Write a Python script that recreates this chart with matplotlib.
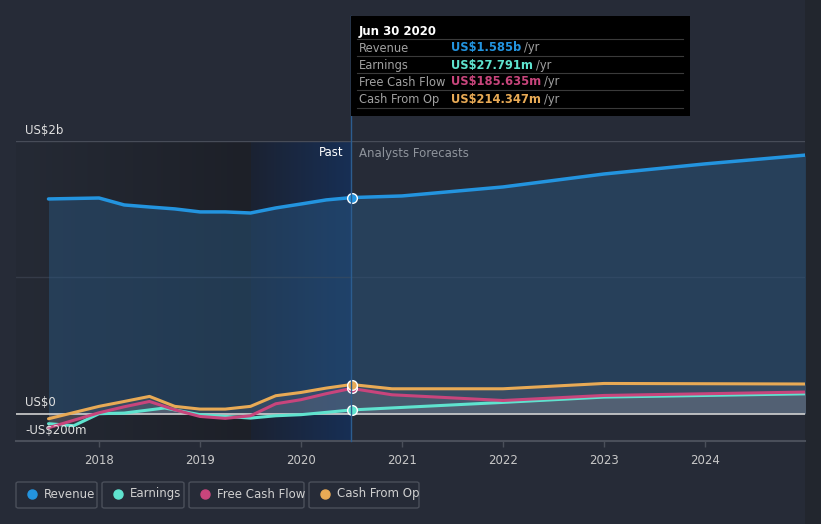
import matplotlib
matplotlib.use("Agg")
import matplotlib.pyplot as plt
from matplotlib.lines import Line2D
from matplotlib.patches import FancyBboxPatch, Rectangle
from matplotlib.colors import to_rgb
import numpy as np

# values in US$ millions, x in fractional years
rev_x = [2017.5, 2018.0, 2018.25, 2018.5, 2018.75, 2019.0, 2019.25, 2019.5, 2019.75, 2020.0, 2020.25, 2020.5,
         2021.0, 2022.0, 2023.0, 2024.0, 2025.0]
rev_y = [1575, 1582, 1531, 1516, 1502, 1480, 1480, 1472, 1509, 1538, 1568, 1585,
         1597, 1663, 1758, 1832, 1897]

earn_x = [2017.5, 2017.75, 2018.0, 2018.25, 2018.65, 2019.0, 2019.5, 2019.75, 2020.0, 2020.25, 2020.5,
          2022.0, 2023.0, 2025.0]
earn_y = [-73, -88, 0, 5, 42, -7, -32, -15, -7, 10, 27.8,
          83, 122, 146]

fcf_x = [2017.5, 2018.0, 2018.25, 2018.5, 2018.75, 2019.0, 2019.25, 2019.5, 2019.75, 2020.0, 2020.25, 2020.5,
         2020.9, 2022.0, 2023.0, 2025.0]
fcf_y = [-103, 7, 51, 90, 29, -20, -34, -15, 73, 103, 147, 185.6,
         139, 97, 134, 159]

cfo_x = [2017.5, 2018.0, 2018.25, 2018.5, 2018.75, 2019.0, 2019.25, 2019.5, 2019.75, 2020.0, 2020.25, 2020.5,
         2020.9, 2022.0, 2023.0, 2025.0]
cfo_y = [-37, 54, 90, 127, 54, 34, 34, 54, 132, 156, 188, 214.3,
         183, 183, 222, 218]

years = [2018, 2019, 2020, 2021, 2022, 2023, 2024]
legend_names = ["Revenue", "Earnings", "Free Cash Flow", "Cash From Op"]
tip_values = ["US$1.585b", "US$27.791m", "US$185.635m", "US$214.347m"]

BG = "#262b37"
C_REV = "#2394df"
C_EARN = "#5fe3cf"
C_FCF = "#c8457c"
C_CFO = "#e8aa55"
colors = [C_REV, C_EARN, C_FCF, C_CFO]

W, H = 821, 524
fig = plt.figure(figsize=(W / 100, H / 100), dpi=100, facecolor=BG)

def fx(px):
    return px / W

def fy(py):
    return 1 - py / H

# slightly darker strip at the right edge
fig.add_artist(Rectangle((fx(805), 0), 16 / W, 1, transform=fig.transFigure,
                         facecolor="#22262e", edgecolor="none", zorder=0))

ax = fig.add_axes([16 / W, 1 - 441 / H, (805 - 16) / W, 300 / H])
ax.set_facecolor(BG)
x0 = 2018 - 83 / 101
x1 = 2018 + 706 / 101
ax.set_xlim(x0, x1)
ax.set_ylim(-200, 2000)


def hgrad(xa, xb, c_left, c_right, z=0):
    cl, cr = np.array(to_rgb(c_left)), np.array(to_rgb(c_right))
    t = np.linspace(0, 1, 256)[None, :, None]
    img = cl * (1 - t) + cr * t
    ax.imshow(img, extent=[xa, xb, -200, 2000], aspect="auto", zorder=z, interpolation="bilinear")


# shaded past regions (gradients)
hgrad(x0, 2019.5, "#252a35", "#1d2028")
hgrad(2019.5, 2020.5, "#1b2232", "#172f55")
ax.set_xlim(x0, x1)
ax.set_ylim(-200, 2000)

# gridlines
ax.axhline(2000, color="#474c58", lw=1, zorder=1)
ax.axhline(1000, color="#353b48", lw=1, zorder=1)

# revenue fill + line
ax.fill_between(rev_x, 0, rev_y, color="#2a5a85", alpha=0.45, lw=0, zorder=2)
for xs, ys in [(earn_x, earn_y), (fcf_x, fcf_y), (cfo_x, cfo_y)]:
    ax.fill_between(xs, 0, ys, color="#8a8a95", alpha=0.18, lw=0, zorder=2)

ax.axhline(0, color="#d0d0d0", lw=1.2, zorder=3)

ax.plot(earn_x, earn_y, color=C_EARN, lw=2.2, zorder=4, solid_capstyle="round")
ax.plot(fcf_x, fcf_y, color=C_FCF, lw=2.2, zorder=5, solid_capstyle="round")
ax.plot(cfo_x, cfo_y, color=C_CFO, lw=2.2, zorder=6, solid_capstyle="round")
ax.plot(rev_x, rev_y, color=C_REV, lw=2.5, zorder=6, solid_capstyle="round")

# markers at the tooltip date
for xs, ys, c in [(rev_x, rev_y, C_REV), (fcf_x, fcf_y, C_FCF), (cfo_x, cfo_y, C_CFO), (earn_x, earn_y, C_EARN)]:
    i = xs.index(2020.5)
    ax.plot(xs[i], ys[i], "o", ms=7, color=c, mec="white", mew=1, zorder=8)

# spines / ticks
for s in ["top", "right", "left"]:
    ax.spines[s].set_visible(False)
ax.spines["bottom"].set_color("#4a4f5a")
ax.spines["bottom"].set_linewidth(1.5)
ax.set_yticks([])
ax.set_xticks(years)
ax.set_xticklabels([str(y) for y in years], fontsize=8.5)
ax.tick_params(axis="x", colors="#4a4f5a", length=4, width=1, pad=5, labelcolor="#c8c8c8")

# y labels
fig.text(fx(25), fy(130), "US$2b", color="#e0e0e0", fontsize=8.5, va="center")
fig.text(fx(25), fy(402), "US$0", color="#e0e0e0", fontsize=8.5, va="center")
fig.text(fx(25), fy(430), "-US$200m", color="#e0e0e0", fontsize=8.5, va="center")

fig.text(fx(343), fy(153), "Past", color="#ffffff", fontsize=8.5, va="center", ha="right")
fig.text(fx(359), fy(153), "Analysts Forecasts", color="#8f949c", fontsize=8.5, va="center")

# vertical marker line
fig.add_artist(Line2D([fx(351), fx(351)], [fy(16), fy(441)], color="#2c5d8f", lw=1, zorder=9))

# tooltip
fig.add_artist(Rectangle((fx(351), fy(116)), (690 - 351) / W, 100 / H, transform=fig.transFigure,
                         facecolor="#000000", edgecolor="none", zorder=10))
fig.text(fx(359), fy(31), "Jun 30 2020", color="white", fontsize=8.5, fontweight="bold", va="center", zorder=11)
row_y = [48, 65, 82, 99]
fig.canvas.draw()
for i, (name, val, c) in enumerate(zip(legend_names, tip_values, colors)):
    yy = row_y[i]
    fig.add_artist(Line2D([fx(357), fx(683)], [fy(yy - 9), fy(yy - 9)], color="#3a3a3a", lw=0.8, zorder=11))
    fig.text(fx(359), fy(yy), name, color="#a0a0a0", fontsize=8.3, va="center", zorder=11)
    t = fig.text(fx(451), fy(yy), val, color=c, fontsize=8.3, fontweight="bold", va="center", zorder=11)
    bb = t.get_window_extent(renderer=fig.canvas.get_renderer())
    fig.text(bb.x1 / W + 3 / W, fy(yy), "/yr", color="#a0a0a0", fontsize=8.3, va="center", zorder=11)
fig.add_artist(Line2D([fx(357), fx(683)], [fy(108), fy(108)], color="#3a3a3a", lw=0.8, zorder=11))

# legend boxes
boxes = [(16, 97), (102, 184), (189, 304), (309, 419)]
for (bx0, bx1), name, c in zip(boxes, legend_names, colors):
    fig.add_artist(FancyBboxPatch((fx(bx0), fy(508)), (bx1 - bx0) / W, 26 / H, transform=fig.transFigure,
                                  boxstyle="round,pad=0,rounding_size=0.003", facecolor="none",
                                  edgecolor="#4a4f5a", lw=1))
    fig.add_artist(Line2D([fx(bx0 + 16)], [fy(494)], marker="o", ms=6.5, color=c, lw=0))
    fig.text(fx(bx0 + 28), fy(494), name, color="#d0d0d0", fontsize=8.5, va="center")

fig.savefig("out.png", dpi=100, facecolor=BG)
